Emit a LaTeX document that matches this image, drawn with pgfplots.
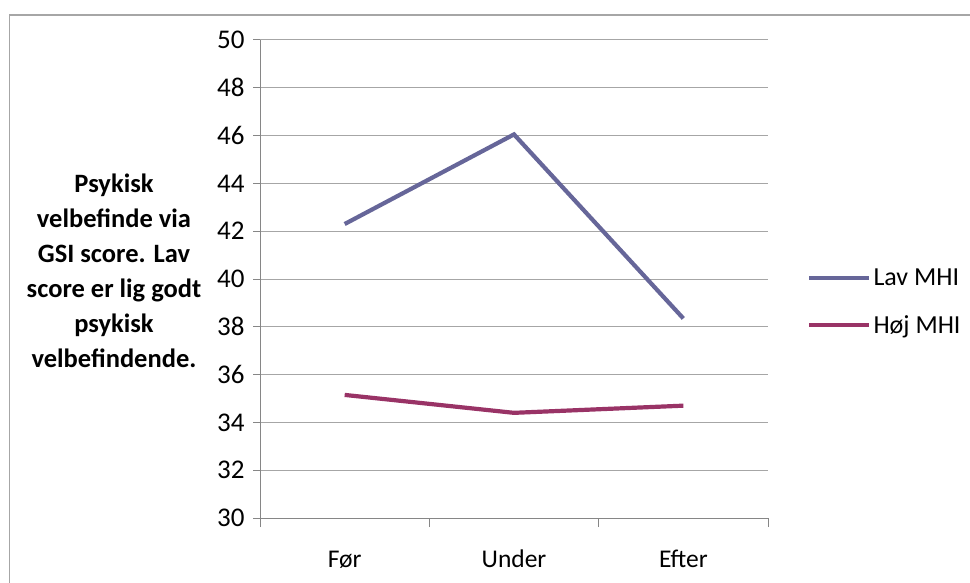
\documentclass[border=0pt]{standalone}
\usepackage{fontspec}
\setmainfont{Carlito}
\usepackage{pgfplots}
\pgfplotsset{compat=1.18}
\definecolor{lav}{HTML}{666699}
\definecolor{hoj}{HTML}{993366}
\definecolor{gridc}{HTML}{A6A6A6}
\definecolor{axc}{HTML}{868686}
\begin{document}
\begin{tikzpicture}[x=1pt,y=1pt]
\useasboundingbox (0,0) rectangle (970,582);
% outer chart frame (only top and left are inside the image)
\draw[gridc, line width=1.6pt] (9.5,-5) -- (9.5,567) -- (975,567);
\begin{axis}[
  at={(260pt,64pt)}, anchor=south west,
  scale only axis, width=508pt, height=478pt,
  xmin=-0.5, xmax=2.5, ymin=30, ymax=50,
  ytick={30,32,...,50},
  xtick={0,1,2}, xticklabels={Før,Under,Efter},
  major x tick style={draw=none},
  minor xtick={-0.5,0.5,1.5,2.5},
  axis x line*=bottom, axis y line*=left,
  axis line style={axc, line width=1pt, -},
  ymajorgrids, grid style={gridc, line width=1pt},
  tick align=outside, major tick length=7pt, minor tick length=9pt,
  tick style={axc, line width=1pt},
  yticklabel style={font=\fontsize{27}{30}\selectfont, xshift=-5pt},
  xticklabel style={font=\fontsize{25.5}{30}\selectfont, anchor=base, yshift=-42pt},
  /pgf/number format/assume math mode=true,
  legend style={draw=none, fill=none, at={(1.077,0.452)}, anchor=west,
    font=\fontsize{26}{30}\selectfont, row sep=24pt, inner sep=0pt,
    nodes={inner sep=2pt}},
  legend cell align=left,
  legend image code/.code={\draw[#1] (0pt,0pt) -- (60pt,0pt);},
]
\addplot[lav, line width=4.2pt] coordinates {(0,42.3) (1,46.05) (2,38.35)};
\addlegendentry{Lav MHI}
\addplot[hoj, line width=4.2pt] coordinates {(0,35.15) (1,34.4) (2,34.7)};
\addlegendentry{Høj MHI}
\end{axis}
\node[font=\bfseries\fontsize{26.5}{35}\selectfont, align=center] at (114,311)
  {Psykisk\\velbefinde via\\GSI score. Lav\\score er lig godt\\psykisk\\velbefindende.};
\end{tikzpicture}
\end{document}
